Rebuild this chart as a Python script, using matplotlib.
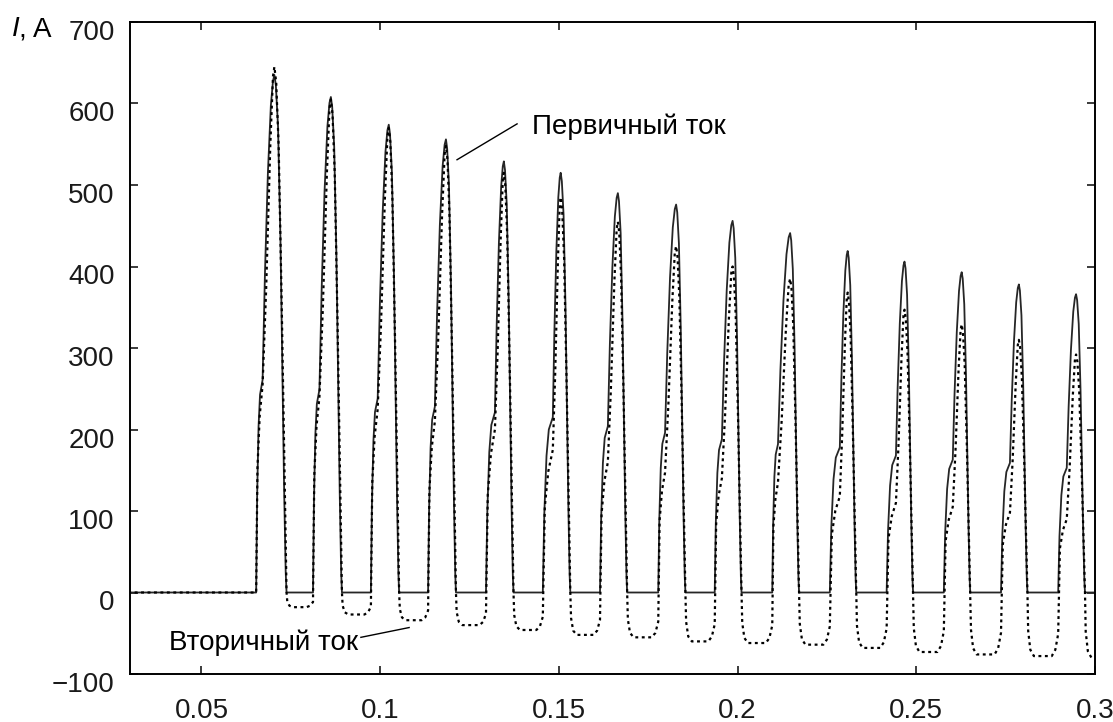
import matplotlib
matplotlib.use("Agg")
import matplotlib.pyplot as plt
import matplotlib.transforms as mtrans

plt.rcParams['font.family'] = ['Liberation Sans', 'DejaVu Sans']

# inrush current pulses: times in s, currents in A
t_start = [0.0653, 0.0812, 0.0974, 0.1134, 0.1296, 0.1455, 0.1615, 0.1778,
           0.1936, 0.2097, 0.2258, 0.2417, 0.2577, 0.2737, 0.2897]
t_knee = [0.0671, 0.0830, 0.0993, 0.1153, 0.1321, 0.1483, 0.1637, 0.1797,
          0.1956, 0.2113, 0.2286, 0.2443, 0.2602, 0.2762, 0.2921]
t_peak = [0.0704, 0.0862, 0.1024, 0.1184, 0.1346, 0.1505, 0.1665, 0.1828,
          0.1986, 0.2147, 0.2308, 0.2467, 0.2627, 0.2787, 0.2947]
t_end = [0.0738, 0.0893, 0.1053, 0.1212, 0.1373, 0.1532, 0.1691, 0.1854,
         0.2011, 0.2172, 0.2332, 0.2491, 0.2651, 0.2811, 0.2972]

# primary current
i1_knee = [261, 249, 238, 228, 221, 215, 204, 196, 188, 182, 178, 168, 163, 159, 153]
i1_peak = [635, 608, 574, 556, 529, 515, 490, 476, 456, 441, 419, 406, 393, 378, 366]

# secondary current
i2_knee = [255, 240, 225, 210, 200, 175, 160, 147, 140, 135, 118, 110, 105, 98, 90]
i2_peak = [645, 605, 570, 548, 515, 485, 455, 425, 400, 385, 368, 347, 329, 310, 292]
i2_gap = [-18, -27, -34, -40, -46, -52, -55, -60, -62, -64, -68, -73, -76, -78, -80]

t_first = 0.0295
t_last = 0.2995

# pulse outline: (fraction of interval, fraction of level)
rise_a = [(0.0, 0.0), (0.15, 0.45), (0.37, 0.78), (0.6, 0.93), (1.0, 1.0)]
rise_b = [(0.2, 0.35), (0.45, 0.68), (0.7, 0.9), (0.88, 0.98), (1.0, 1.0)]
fall = [(0.12, 0.98), (0.3, 0.9), (0.5, 0.68), (0.8, 0.2), (0.93, 0.04), (1.0, 0.0)]

rise2_a = [(0.2, 0.6), (0.55, 0.85), (1.0, 1.0)]
rise2_b = [(0.3, 0.3), (0.65, 0.75), (0.88, 0.97), (1.0, 1.0)]
fall2 = [(0.15, 0.97), (0.35, 0.85), (0.6, 0.55), (0.85, 0.2), (1.0, 0.0)]

t1, y1 = [t_first], [0.0]
for ts, tk, tp, te, K, P in zip(t_start, t_knee, t_peak, t_end, i1_knee, i1_peak):
    for f, v in rise_a:
        t1.append(ts + f * (tk - ts)); y1.append(v * K)
    for f, v in rise_b:
        t1.append(tk + f * (tp - tk)); y1.append(K + v * (P - K))
    for f, v in fall:
        t1.append(tp + f * (te - tp)); y1.append(v * P)
t1.append(t_last); y1.append(0.0)

t2, y2 = [t_first], [0.0]
g_prev = 0.0
n = len(t_peak)
for k in range(n):
    ts, tk, tp, te = t_start[k], t_knee[k], t_peak[k], t_end[k]
    K, P, g = i2_knee[k], i2_peak[k], i2_gap[k]
    t2.append(ts); y2.append(0.65 * g_prev)
    for f, v in rise2_a:
        t2.append(ts + f * (tk - ts)); y2.append(v * K)
    for f, v in rise2_b:
        t2.append(tk + f * (tp - tk)); y2.append(K + v * (P - K))
    for f, v in fall2:
        t2.append(tp + f * (te - tp)); y2.append(v * P)
    t2 += [te + 0.0002, te + 0.0008, te + 0.0018]
    y2 += [0.6 * g, 0.9 * g, g]
    if k < n - 1:
        tn = t_start[k + 1]
        t2 += [tn - 0.0018, tn - 0.0008]
        y2 += [g, 0.9 * g]
    g_prev = g

fig = plt.figure(figsize=(11.13, 7.22), dpi=100)
ax = fig.add_axes([130 / 1113, 1 - 674 / 722, 965 / 1113, 652 / 722])

ax.plot(t1, y1, color='#262626', lw=1.3, zorder=2)
ax.plot(t2, y2, color='black', lw=1.6, ls=(0, (1.3, 1.6)), zorder=3)

ax.set_xlim(0.03, 0.3)
ax.set_ylim(-100, 700)
ax.set_xticks([0.05, 0.1, 0.15, 0.2, 0.25, 0.3])
ax.set_xticklabels(['0.05', '0.1', '0.15', '0.2', '0.25', '0.3'])
ax.set_yticks(range(-100, 701, 100))

fs = 20
for s in ax.spines.values():
    s.set_linewidth(1.4)
ax.tick_params(direction='in', length=6, width=1.2, top=True, right=True,
               labelsize=fs, colors='#1a1a1a')
ax.tick_params(axis='x', pad=17)
ax.tick_params(axis='y', pad=11)

shift = mtrans.ScaledTranslation(0, -0.08, fig.dpi_scale_trans)
for lab in ax.get_yticklabels():
    lab.set_transform(lab.get_transform() + shift)

# axis title
fig.text(12 / 1113, 1 - 29 / 722, 'I', fontsize=fs, style='italic', va='center')
fig.text(19 / 1113, 1 - 29 / 722, ', A', fontsize=fs, va='center')

# curve labels
ax.plot([0.1215, 0.1383], [531, 575], color='black', lw=1.0)
ax.text(0.1425, 563, 'Первичный ток', fontsize=fs, va='baseline', ha='left')
ax.plot([0.0946, 0.1081], [-55, -43], color='black', lw=1.0)
ax.text(0.0938, -70, 'Вторичный ток', fontsize=fs, va='baseline', ha='right')

fig.savefig('out.png', dpi=100)
